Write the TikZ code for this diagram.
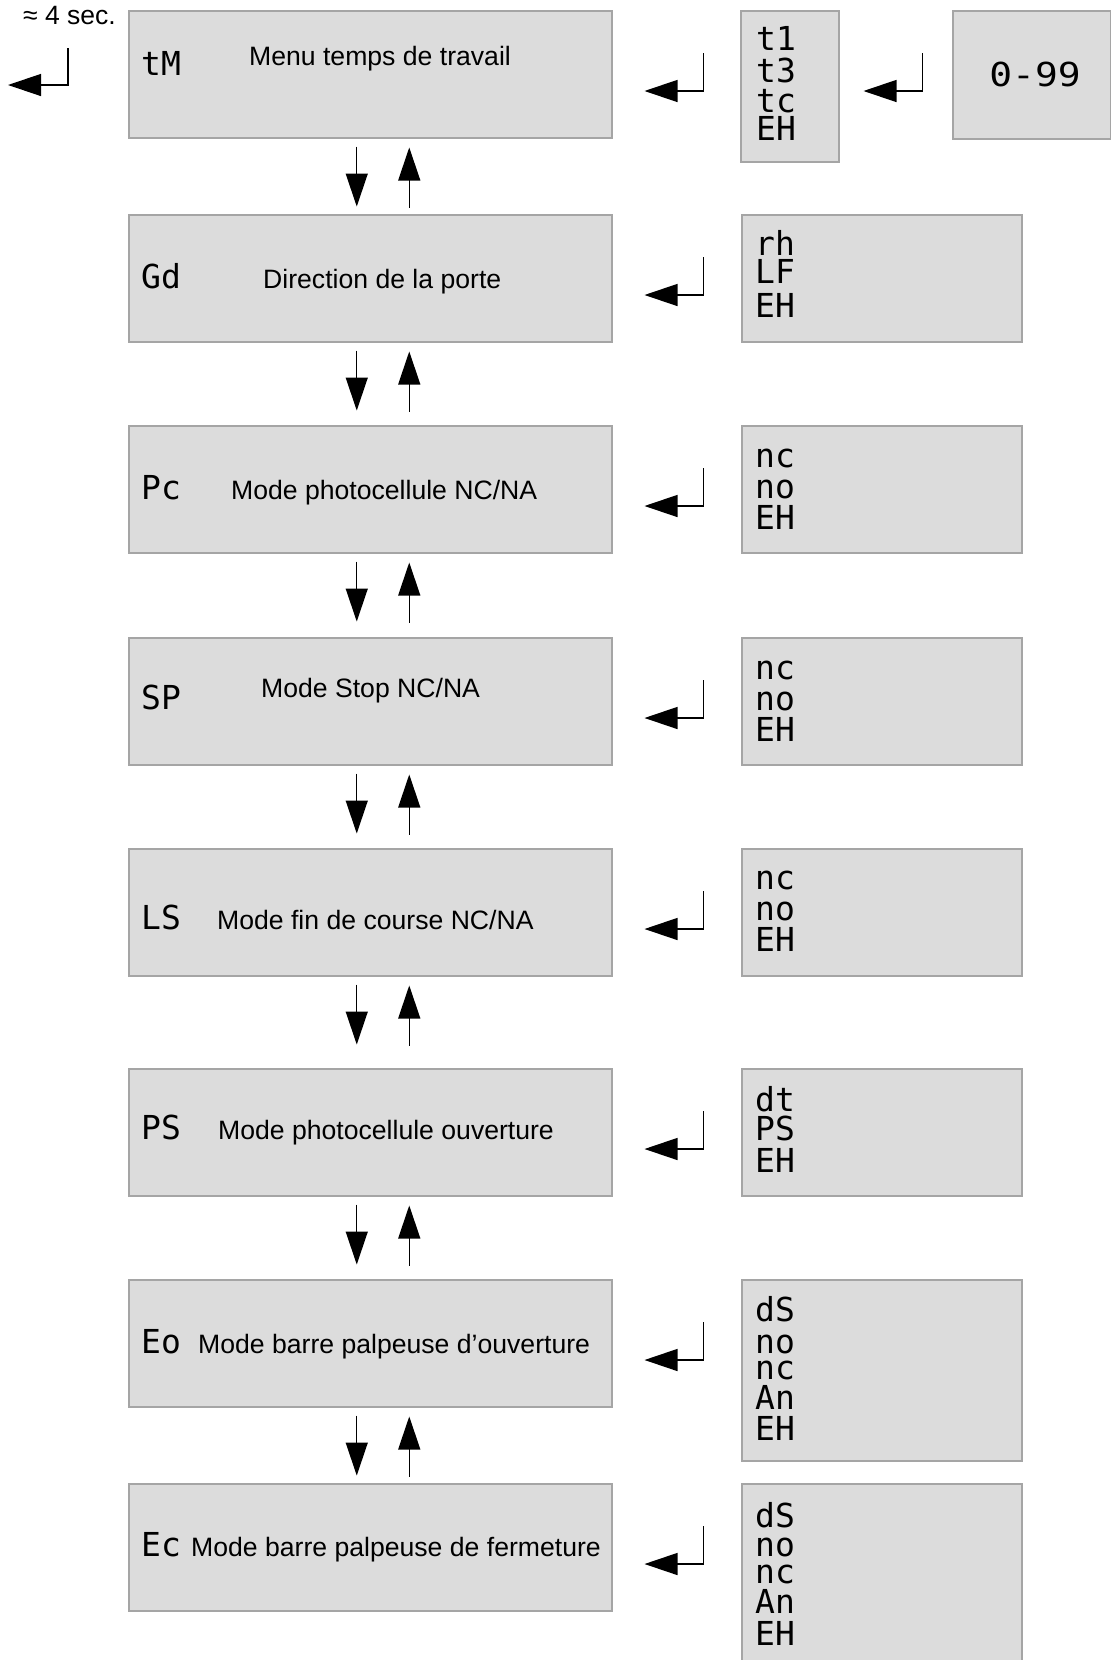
\documentclass[tikz,border=0pt]{standalone}
\usepackage{fontspec}
\setmainfont{Liberation Sans}
\newfontfamily\lcdfont{DejaVu Sans Mono}
\newfontfamily\lcdwide[FakeStretch=1.15]{DejaVu Sans Mono}
\usetikzlibrary{arrows.meta,calc}
\definecolor{boxfill}{RGB}{220,220,220}
\definecolor{boxline}{RGB}{165,165,165}
\begin{document}
\begin{tikzpicture}[x=1pt,y=-1pt,
  panel/.style={draw=boxline, line width=1.5pt, fill=boxfill, inner sep=0pt, anchor=north west},
  leftpanel/.style={panel, minimum width=483pt, minimum height=127pt},
  rightpanel/.style={panel, minimum width=280pt, minimum height=127pt},
  lbl/.style={anchor=base west, inner sep=0pt, font=\fontsize{26.6}{30}\selectfont},
  lcd/.style={anchor=base west, inner sep=0pt, font=\lcdfont\fontsize{33}{33}\selectfont},
  navarrow/.style={line width=1.3pt, -{Triangle[length=33pt,width=22pt]}},
]
\useasboundingbox (0,0) rectangle (1111,1660);
\clip (0,0) rectangle (1111,1660);

% ---------- left column ----------
\node[leftpanel] (L1) at (128,10) {};
\node[leftpanel] (L2) at (128,214) {};
\node[leftpanel] (L3) at (128,425) {};
\node[leftpanel] (L4) at (128,637) {};
\node[leftpanel] (L5) at (128,848) {};
\node[leftpanel] (L6) at (128,1068) {};
\node[leftpanel] (L7) at (128,1279) {};
\node[leftpanel] (L8) at (128,1483) {};

\node[lcd] (c1) at (141,75) {tM};
\node[lbl] (t1) at (249,65) {Menu temps de travail};
\node[lcd] (c2) at (141,288) {Gd};
\node[lbl] (t2) at (263,288) {Direction de la porte};
\node[lcd] (c3) at (141,499) {Pc};
\node[lbl] (t3) at (231,499) {Mode photocellule NC/NA};
\node[lcd] (c4) at (141,709) {SP};
\node[lbl] (t4) at (261,697) {Mode Stop NC/NA};
\node[lcd] (c5) at (141,929) {LS};
\node[lbl] (t5) at (217,929) {Mode fin de course NC/NA};
\node[lcd] (c6) at (141,1139) {PS};
\node[lbl] (t6) at (218,1139) {Mode photocellule ouverture};
\node[lcd] (c7) at (141,1353) {Eo};
\node[lbl] (t7) at (198,1353) {Mode barre palpeuse d'ouverture};
\node[lcd] (c8) at (141,1556) {Ec};
\node[lbl] (t8) at (191,1556) {Mode barre palpeuse de fermeture};

% ---------- right column ----------
\node[panel, minimum width=98pt, minimum height=151pt] (R1) at (740,10) {};
\node[panel, minimum width=158pt, minimum height=128pt] (R0) at (952,10) {};
\node[rightpanel] (R2) at (741,214) {};
\node[rightpanel] (R3) at (741,425) {};
\node[rightpanel] (R4) at (741,637) {};
\node[rightpanel] (R5) at (741,848) {};
\node[rightpanel] (R6) at (741,1068) {};
\node[rightpanel, minimum height=181pt] (R7) at (741,1279) {};
\node[rightpanel, minimum height=200pt] (R8) at (741,1483) {};

\node[lcd] (v1a) at (756,50) {t1};
\node[lcd] (v1b) at (756,82) {t3};
\node[lcd] (v1c) at (756,112) {tc};
\node[lcd] (v1d) at (756,140) {EH};
\node[anchor=base, inner sep=0pt, font=\lcdwide\fontsize{33}{33}\selectfont] (v0) at (1035,86) {0-99};

\node[lcd] (v2a) at (755,255) {rh};
\node[lcd] (v2b) at (755,283) {LF};
\node[lcd] (v2c) at (755,317) {EH};

\node[lcd] (v3a) at (755,467) {nc};
\node[lcd] (v3b) at (755,498) {no};
\node[lcd] (v3c) at (755,529) {EH};

\node[lcd] (v4a) at (755,679) {nc};
\node[lcd] (v4b) at (755,710) {no};
\node[lcd] (v4c) at (755,741) {EH};

\node[lcd] (v5a) at (755,889) {nc};
\node[lcd] (v5b) at (755,920) {no};
\node[lcd] (v5c) at (755,951) {EH};

\node[lcd] (v6a) at (755,1111) {dt};
\node[lcd] (v6b) at (755,1140) {PS};
\node[lcd] (v6c) at (755,1172) {EH};

\node[lcd] (v7a) at (755,1321) {dS};
\node[lcd] (v7b) at (755,1353) {no};
\node[lcd] (v7c) at (755,1379) {nc};
\node[lcd] (v7d) at (755,1409) {An};
\node[lcd] (v7e) at (755,1440) {EH};

\node[lcd] (v8a) at (755,1527) {dS};
\node[lcd] (v8b) at (755,1556) {no};
\node[lcd] (v8c) at (755,1583) {nc};
\node[lcd] (v8d) at (755,1613) {An};
\node[lcd] (v8e) at (755,1645) {EH};

% ---------- top-left hint ----------
\node[anchor=base west, inner sep=0pt, font=\fontsize{26.5}{30}\selectfont] (hold) at (23,24) {≈ 4 sec.};
\coordinate (holdtop) at (68,48);
\coordinate (holdtip) at (8,85);
\draw[navarrow] (holdtop) |- (holdtip);

% ---------- return arrows (right -> left) ----------
\draw[navarrow] ($(R1.north west)+(-36.5,43)$) |- ($(L1.north east)+(32,81)$);
\draw[navarrow] ($(R0.north west)+(-29.5,43)$) |- ($(R1.north east)+(24,81)$);
\foreach \i in {2,...,8}{
  \draw[navarrow] ($(R\i.north west)+(-37.5,43)$) |- ($(L\i.north east)+(32,81)$);
}

% ---------- up / down arrows between menu entries ----------
\foreach \i/\j in {1/2,2/3,3/4,4/5,5/6,6/7,7/8}{
  \draw[navarrow] ($(L\i.south)+(-13.5,8)$) -- ($(L\i.south)+(-13.5,68)$);
  \draw[navarrow] ($(L\i.south)+(39,69)$) -- ($(L\i.south)+(39,9)$);
}
\end{tikzpicture}
\end{document}
